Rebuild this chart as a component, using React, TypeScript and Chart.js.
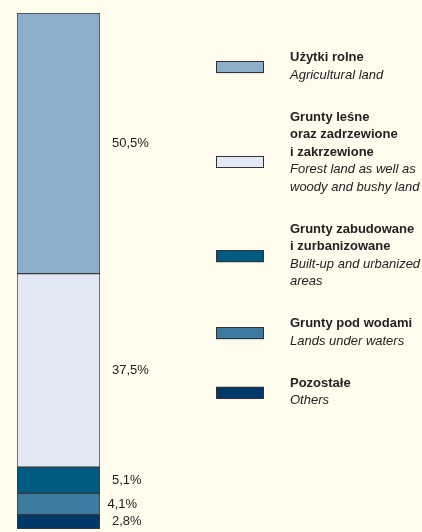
import React, { useEffect, useRef } from 'react';
import { Chart, registerables } from 'chart.js';

Chart.register(...registerables);

const categories = ['Powierzchnia'];
const seriesPl = [
  ['Użytki rolne'],
  ['Grunty leśne', 'oraz zadrzewione', 'i zakrzewione'],
  ['Grunty zabudowane', 'i zurbanizowane'],
  ['Grunty pod wodami'],
  ['Pozostałe'],
];
const seriesEn = [
  ['Agricultural land'],
  ['Forest land as well as', 'woody and bushy land'],
  ['Built-up and urbanized', 'areas'],
  ['Lands under waters'],
  ['Others'],
];
const values = [50.5, 37.5, 5.1, 4.1, 2.8];
const colors = ['#8DAECB', '#E3E9F4', '#005B82', '#3D7A9F', '#00386A'];

const BG = '#FFFCEE';
const FONT = '"Liberation Sans", Arial, sans-serif';

const bgPlugin = {
  id: 'bg',
  beforeDraw(chart: any) {
    const ctx = chart.ctx;
    ctx.save();
    ctx.fillStyle = BG;
    ctx.fillRect(0, 0, chart.width, chart.height);
    ctx.restore();
  },
};

const valueLabelPlugin = {
  id: 'valueLabels',
  afterDatasetsDraw(chart: any) {
    const ctx = chart.ctx;
    ctx.save();
    ctx.fillStyle = '#222';
    ctx.font = `13px ${FONT}`;
    ctx.textAlign = 'left';
    ctx.textBaseline = 'middle';
    chart.data.datasets.forEach((ds: any, i: number) => {
      const meta = chart.getDatasetMeta(i);
      const el = meta.data[0];
      if (!el) return;
      const right = el.x + el.width / 2;
      const yc = (el.y + el.base) / 2;
      const v = ds.data[0] as number;
      const txt = v.toFixed(1).replace('.', ',') + '%';
      const shift = ds.labelShift || 0;
      ctx.fillText(txt, right + 12 + shift, yc);
    });
    ctx.restore();
  },
};

const legendPlugin = {
  id: 'customLegend',
  afterDraw(chart: any) {
    const ctx = chart.ctx;
    const swX = 216;
    const swW = 48;
    const swH = 12;
    const textX = 290;
    const lineH = 17.5;
    const groupGap = 42;
    let y = 57.5;
    ctx.save();
    ctx.textAlign = 'left';
    ctx.textBaseline = 'middle';
    ctx.fillStyle = '#222';
    seriesPl.forEach((pl, i) => {
      const lines: { t: string; bold: boolean }[] = [
        ...pl.map((t) => ({ t, bold: true })),
        ...seriesEn[i].map((t) => ({ t, bold: false })),
      ];
      const startY = y;
      const ys: number[] = [];
      lines.forEach((ln, k) => {
        const ly = startY + k * lineH;
        ys.push(ly);
        ctx.font = ln.bold ? `bold 13px ${FONT}` : `italic 13px ${FONT}`;
        ctx.fillStyle = '#222';
        ctx.fillText(ln.t, textX, ly);
      });
      const swC = (ys[pl.length - 1] + ys[pl.length]) / 2 + 1;
      ctx.fillStyle = colors[i];
      ctx.fillRect(swX, swC - swH / 2, swW, swH);
      ctx.strokeStyle = '#333';
      ctx.lineWidth = 1;
      ctx.strokeRect(swX + 0.5, Math.round(swC - swH / 2) + 0.5, swW - 1, swH - 1);
      y = ys[ys.length - 1] + groupGap;
    });
    ctx.restore();
  },
};

export default function App() {
  const ref = useRef<HTMLCanvasElement>(null);
  useEffect(() => {
    if (!ref.current) return;
    const order = [4, 3, 2, 1, 0];
    const shifts = [0, 0, 0, -4.5, 0];
    const datasets = order.map((i) => ({
      label: seriesPl[i].join(' '),
      data: [values[i]],
      backgroundColor: colors[i],
      borderColor: '#3a3a3a',
      borderWidth: 1,
      borderSkipped: false,
      labelShift: shifts[i],
      barPercentage: 1,
      categoryPercentage: 1,
    }));
    const chart = new Chart(ref.current, {
      type: 'bar',
      data: { labels: categories, datasets: datasets as any },
      options: {
        responsive: false,
        animation: false,
        devicePixelRatio: 1,
        layout: { padding: { left: 17, right: 322, top: 13, bottom: 3 } },
        plugins: { legend: { display: false }, tooltip: { enabled: false } },
        scales: {
          x: { stacked: true, display: false },
          y: { stacked: true, display: false, min: 0, max: 100 },
        },
      },
      plugins: [bgPlugin, valueLabelPlugin, legendPlugin],
    });
    return () => chart.destroy();
  }, []);
  return (
    <div style={{ position: 'absolute', left: 0, top: 0, width: 422, height: 532, background: BG }}>
      <canvas ref={ref} width={422} height={532} />
    </div>
  );
}
